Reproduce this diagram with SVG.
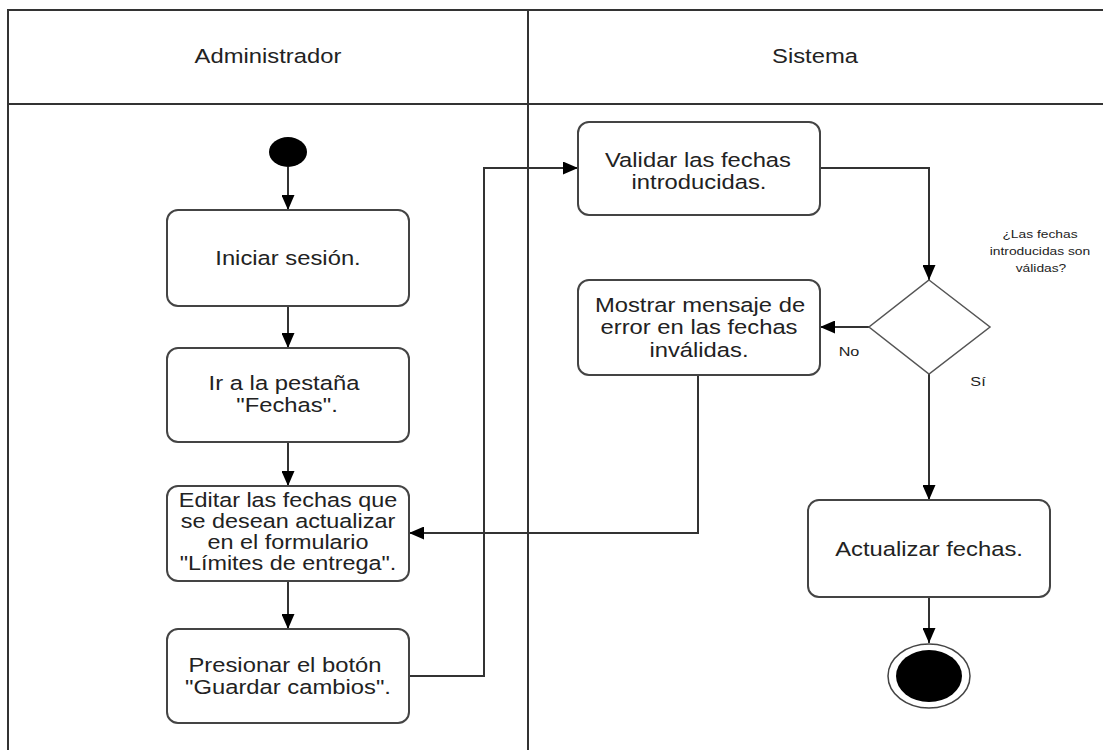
<svg xmlns="http://www.w3.org/2000/svg" width="1103" height="750" viewBox="0 0 1103 750">
<defs>
<style>
.lane{fill:none;stroke:#333;stroke-width:2}
.box{fill:#fff;stroke:#444;stroke-width:2}
.t{font-family:"Liberation Sans",Arial,sans-serif;font-size:19.5px;fill:#222;text-anchor:middle}
.s{font-family:"Liberation Sans",Arial,sans-serif;font-size:11.5px;fill:#222;text-anchor:middle}
.l{font-family:"Liberation Sans",Arial,sans-serif;font-size:13.5px;fill:#222;text-anchor:middle}
.c{fill:none;stroke:#333;stroke-width:2}
</style>
<marker id="ah" viewBox="0 0 15 13" refX="15" refY="6.5" markerWidth="15" markerHeight="13" markerUnits="userSpaceOnUse" orient="auto">
<path d="M0,0 L15,6.5 L0,13 Z" fill="#000"/>
</marker>
</defs>
<rect width="1103" height="750" fill="#fff"/>
<g id="swimlanes">
<path class="lane" d="M8,750 V10 H1103 M8,104 H1103 M528,10 V750"/>
<text class="t" transform="translate(268 63) scale(1.22 1)">Administrador</text>
<text class="t" transform="translate(815 63) scale(1.22 1)">Sistema</text>
</g>
<g id="connectors">
<path class="c" d="M288,167 V210" marker-end="url(#ah)"/>
<path class="c" d="M288,306 V348" marker-end="url(#ah)"/>
<path class="c" d="M288,442 V486" marker-end="url(#ah)"/>
<path class="c" d="M288,581 V629" marker-end="url(#ah)"/>
<path class="c" d="M409,676 H484 V168 H578" marker-end="url(#ah)"/>
<path class="c" d="M820,168 H929 V280" marker-end="url(#ah)"/>
<path class="c" d="M869,327 H820" marker-end="url(#ah)"/>
<path class="c" d="M698,375 V533 H409" marker-end="url(#ah)"/>
<path class="c" d="M929,374 V500" marker-end="url(#ah)"/>
<path class="c" d="M929,597 V643" marker-end="url(#ah)"/>
<text class="s" transform="translate(1040 238) scale(1.2 1)">¿Las fechas</text>
<text class="s" transform="translate(1040 255) scale(1.2 1)">introducidas son</text>
<text class="s" transform="translate(1041 272) scale(1.2 1)">válidas?</text>
<text class="l" transform="translate(849 356) scale(1.2 1)">No</text>
<text class="l" transform="translate(978 386) scale(1.2 1)">Sí</text>
</g>
<g id="start">
<ellipse cx="288" cy="152" rx="19" ry="15" fill="#000"/>
</g>
<g id="iniciar">
<rect class="box" x="167" y="210" width="242" height="96" rx="11"/>
<text class="t" transform="translate(288 265) scale(1.22 1)">Iniciar sesión.</text>
</g>
<g id="pestana">
<rect class="box" x="167" y="348" width="242" height="94" rx="11"/>
<text class="t" transform="translate(284 390) scale(1.22 1)">Ir a la pestaña</text>
<text class="t" transform="translate(287 412) scale(1.22 1)">"Fechas".</text>
</g>
<g id="editar">
<rect class="box" x="167" y="486" width="242" height="95" rx="11"/>
<text class="t" transform="translate(288 507) scale(1.2 1)">Editar las fechas que</text>
<text class="t" transform="translate(288 528) scale(1.2 1)">se desean actualizar</text>
<text class="t" transform="translate(288 549) scale(1.2 1)">en el formulario</text>
<text class="t" transform="translate(288 570) scale(1.2 1)">"Límites de entrega".</text>
</g>
<g id="presionar">
<rect class="box" x="167" y="629" width="242" height="94" rx="11"/>
<text class="t" transform="translate(285 672) scale(1.22 1)">Presionar el botón</text>
<text class="t" transform="translate(288 694) scale(1.22 1)">"Guardar cambios".</text>
</g>
<g id="validar">
<rect class="box" x="578" y="122" width="242" height="93" rx="11"/>
<text class="t" transform="translate(698 167) scale(1.22 1)">Validar las fechas</text>
<text class="t" transform="translate(699 189) scale(1.22 1)">introducidas.</text>
</g>
<g id="decision">
<polygon points="929,280 990,327 929,374 869,327" fill="#fff" stroke="#555" stroke-width="1.5"/>
</g>
<g id="mostrar">
<rect class="box" x="578" y="280" width="242" height="95" rx="11"/>
<text class="t" transform="translate(700 312) scale(1.22 1)">Mostrar mensaje de</text>
<text class="t" transform="translate(699 334) scale(1.22 1)">error en las fechas</text>
<text class="t" transform="translate(699 357) scale(1.22 1)">inválidas.</text>
</g>
<g id="actualizar">
<rect class="box" x="808" y="500" width="242" height="97" rx="11"/>
<text class="t" transform="translate(929 556) scale(1.22 1)">Actualizar fechas.</text>
</g>
<g id="end">
<ellipse cx="929" cy="676" rx="41" ry="32" fill="#fff" stroke="#444" stroke-width="1.5"/>
<ellipse cx="929" cy="676" rx="33" ry="26" fill="#000"/>
</g>
</svg>
